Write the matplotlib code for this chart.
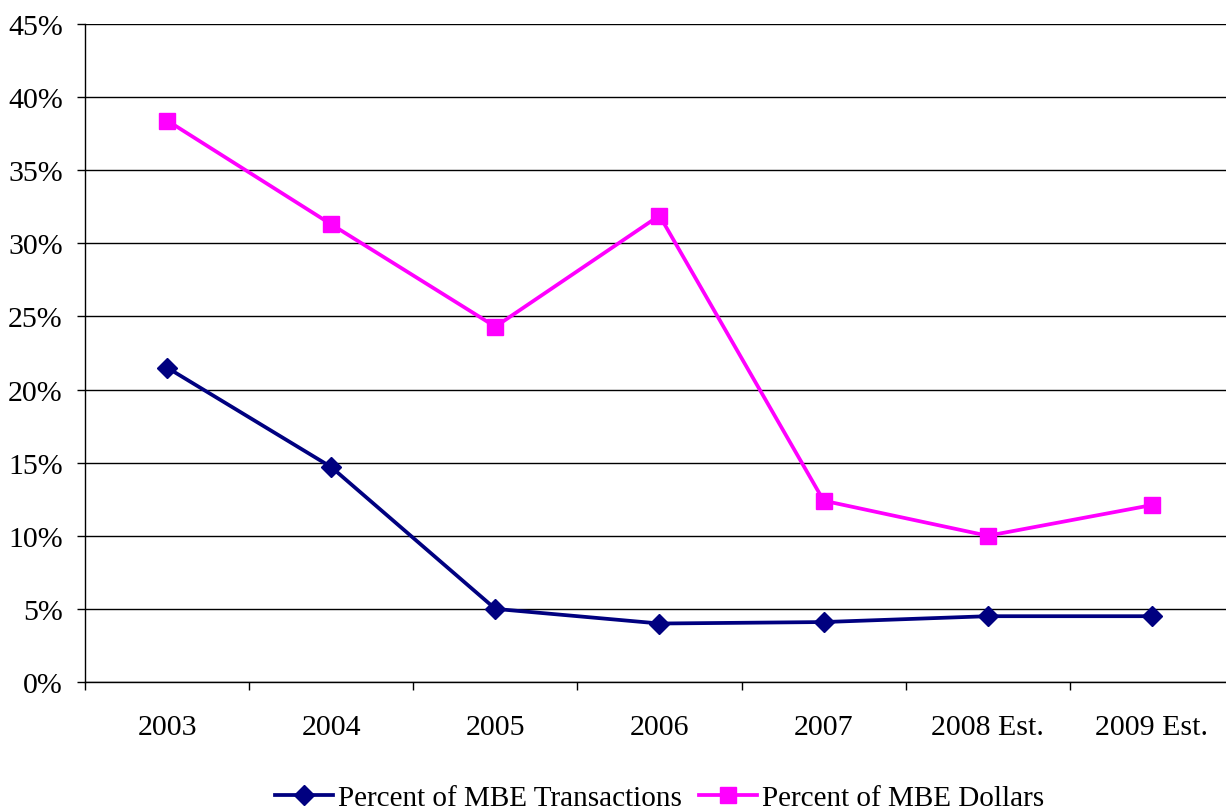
import matplotlib
matplotlib.use("Agg")
import matplotlib.pyplot as plt
from matplotlib.ticker import FixedLocator, FuncFormatter

years = ["2003", "2004", "2005", "2006", "2007", "2008 Est.", "2009 Est."]
pct_transactions = [21.5, 14.7, 5.0, 4.0, 4.1, 4.5, 4.5]
pct_dollars = [38.4, 31.3, 24.3, 31.9, 12.4, 10.0, 12.1]
y_ticks = [0, 5, 10, 15, 20, 25, 30, 35, 40, 45]

plt.rcParams["font.family"] = ["Liberation Serif", "DejaVu Serif"]

W, H = 1226, 812
fig = plt.figure(figsize=(W / 100, H / 100), dpi=100)
left, right, top, bottom = 85, 1234, 25, 683
ax = fig.add_axes([left / W, 1 - bottom / H, (right - left) / W, (bottom - top) / H])

x = list(range(len(years)))
ax.plot(x, pct_transactions, color="#000080", lw=2.7, marker="D", ms=10,
        mec="#000080", mfc="#000080", label="Percent of MBE Transactions", zorder=3)
ax.plot(x, pct_dollars, color="#FF00FF", lw=2.7, marker="s", ms=12,
        mec="#FF00FF", mfc="#FF00FF", label="Percent of MBE Dollars", zorder=3)

ax.set_xlim(-0.5, len(years) - 0.5)
ax.set_ylim(0, 45)
ax.set_yticks(y_ticks)
ax.yaxis.set_major_formatter(FuncFormatter(lambda v, p: f"{int(v)}%"))
ax.grid(axis="y", color="black", lw=1.0)
ax.set_axisbelow(True)

ax.set_xticks(x)
ax.set_xticklabels(years)
ax.xaxis.set_minor_locator(FixedLocator([i - 0.5 for i in range(len(years) + 1)]))
ax.tick_params(axis="x", which="major", length=0, pad=23, labelsize=21.5)
ax.tick_params(axis="x", which="minor", length=6, width=1.0, direction="out")
ax.tick_params(axis="y", length=6, width=1.0, direction="out", pad=10, labelsize=21.5)

for s in ["top", "right"]:
    ax.spines[s].set_visible(False)
for s in ["left", "bottom"]:
    ax.spines[s].set_color("black")
    ax.spines[s].set_linewidth(1.0)

fig.legend(loc="center", bbox_to_anchor=((left + right) / 2 / W, 1 - 799 / H),
           ncol=2, frameon=False, fontsize=21, handlelength=2.0,
           handletextpad=0.15, columnspacing=0.6, borderpad=0)

fig.savefig("out.png", dpi=100)
